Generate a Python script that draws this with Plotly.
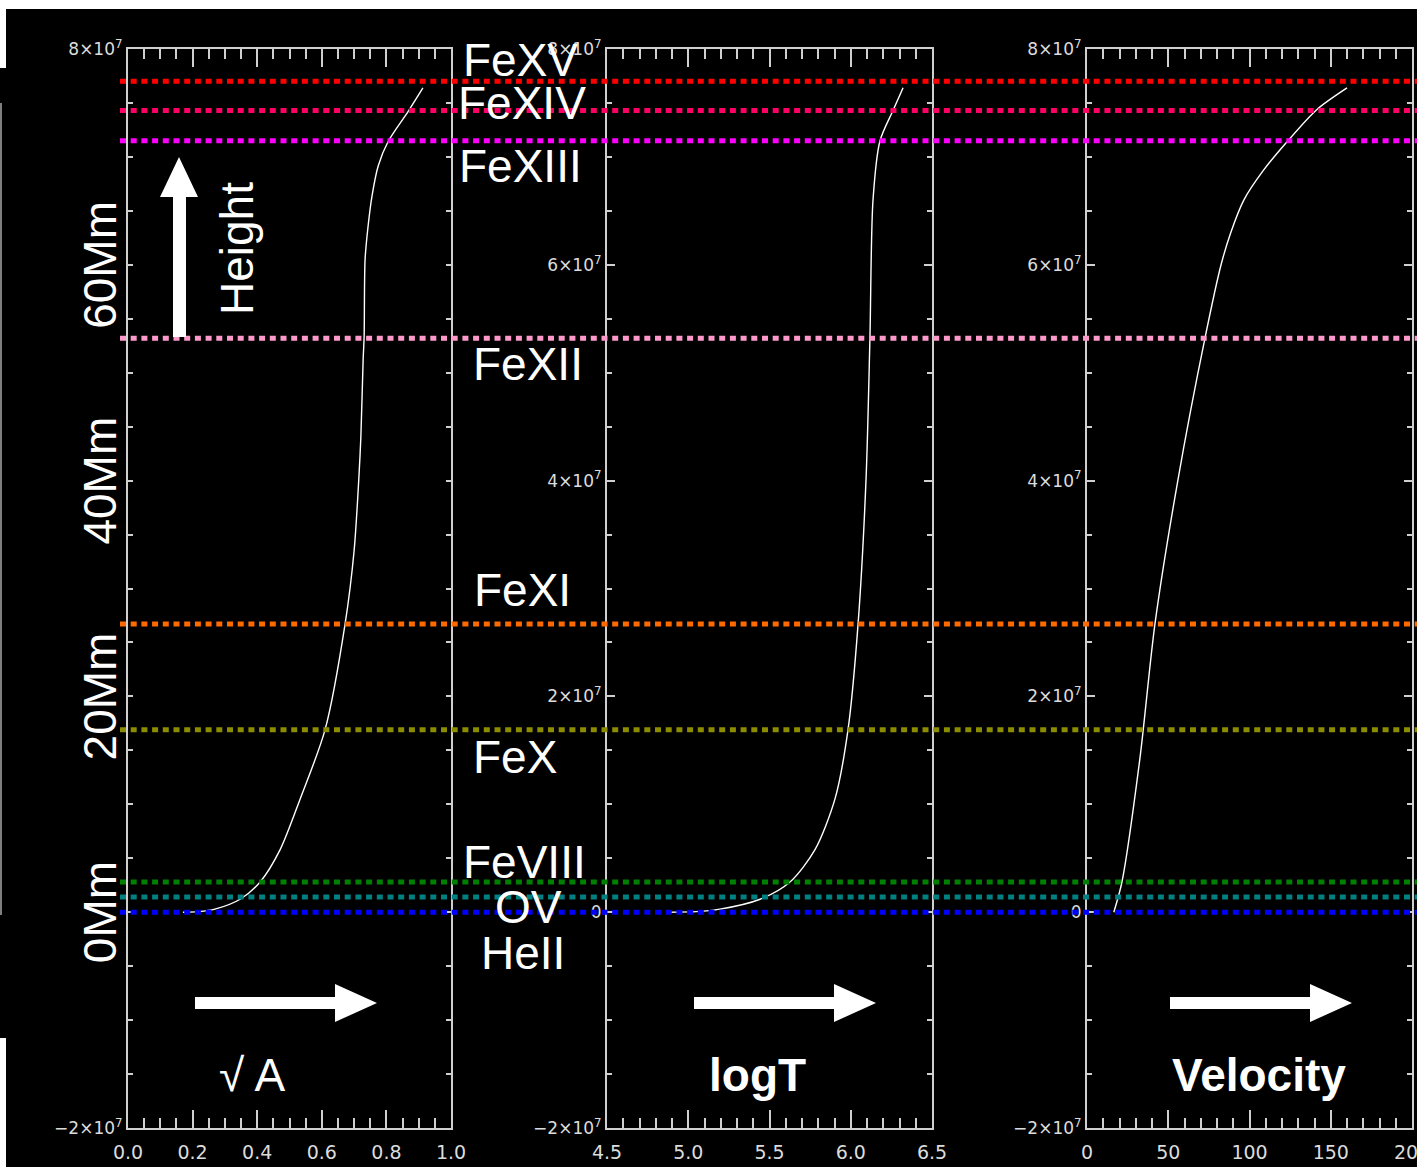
import plotly.graph_objects as go

# ---------------- data ----------------
sqrtA_x = [0.170, 0.220, 0.269, 0.347, 0.409, 0.471, 0.533, 0.610, 0.672, 0.700, 0.715,
           0.721, 0.728, 0.731, 0.734, 0.743, 0.755, 0.775, 0.805, 0.867, 0.913]
sqrtA_h = [0.0, 0.05, 0.28, 1.2, 2.8, 5.8, 10.5, 16.9, 26.7, 33.5, 40.4,
           44.1, 51.2, 53.3, 60.5, 63.5, 66.3, 69.2, 71.4, 74.2, 76.4]

logT_x = [4.869, 5.050, 5.195, 5.442, 5.626, 5.780, 5.903, 5.983, 6.045, 6.094, 6.118,
          6.137, 6.180, 6.260, 6.322]
logT_h = [0.0, 0.05, 0.28, 1.2, 2.8, 5.8, 10.5, 16.9, 26.7, 40.1, 53.2,
          66.0, 71.5, 74.3, 76.4]

vel_x = [16.5, 21.5, 32.6, 41.8, 56.0, 72.6, 82.5, 88.5, 96.5, 108.3, 123.1, 141.5, 160.0]
vel_h = [0.0, 2.8, 14.3, 26.7, 40.1, 53.2, 60.0, 63.0, 66.0, 68.7, 71.4, 74.4, 76.4]

ion_names = ["FeXV", "FeXIV", "FeXIII", "FeXII", "FeXI", "FeX", "FeVIII", "OV", "HeII"]
ion_heights_Mm = [77.0, 74.3, 71.5, 53.2, 26.7, 16.9, 2.8, 1.4, 0.0]
ion_colors = ["#ff0000", "#ff0066", "#ff00ff", "#ff99cc", "#ff6a00",
              "#8c8c00", "#008000", "#008080", "#0000ff"]

height_labels = ["0Mm", "20Mm", "40Mm", "60Mm"]
height_label_vals_Mm = [0, 20, 40, 60]

y_tickvals = [-2e7, 0, 2e7, 4e7, 6e7, 8e7]
y_ticktext = ["\u22122\u00d710<sup>7</sup>", "0", "2\u00d710<sup>7</sup>",
              "4\u00d710<sup>7</sup>", "6\u00d710<sup>7</sup>", "8\u00d710<sup>7</sup>"]
y_tickvals_p1 = [-2e7, 8e7]
y_ticktext_p1 = ["\u22122\u00d710<sup>7</sup>", "8\u00d710<sup>7</sup>"]

panel_titles = ["\u221a A", "<b>logT</b>", "<b>Velocity</b>"]

MM = 1e6  # metres per Mm

# ---------------- geometry helpers ----------------
W, H = 1417, 1167
def px(x):
    return x / W
def py(y):
    return 1 - y / H

ydom = [py(1128), py(49)]
xdoms = [[px(128), px(451)], [px(607), px(932)], [px(1087), px(1412)]]

fig = go.Figure()

curves = [(sqrtA_x, sqrtA_h), (logT_x, logT_h), (vel_x, vel_h)]
for i, (cx, ch) in enumerate(curves):
    sfx = "" if i == 0 else str(i + 1)
    fig.add_trace(go.Scatter(
        x=cx, y=[h * MM for h in ch], mode="lines",
        line=dict(color="white", width=1.4, shape="spline", smoothing=0.8),
        xaxis="x" + sfx, yaxis="y" + sfx, showlegend=False, hoverinfo="skip"))

axcol = "#cfcfcf"
tickfont_x = dict(family="DejaVu Sans", size=19, color="#dcdcdc")
tickfont_y = dict(family="DejaVu Sans", size=17, color="#dcdcdc")

xranges = [[0, 1], [4.5, 6.5], [0, 200]]
xdticks = [0.2, 0.5, 50]
xminor = [0.05, 0.1, 10]
xfmt = [".1f", ".1f", "d"]

layout = dict(
    width=W, height=H,
    margin=dict(l=0, r=0, t=0, b=0, pad=0),
    paper_bgcolor="black", plot_bgcolor="black",
    showlegend=False,
)
for i in range(3):
    sfx = "" if i == 0 else str(i + 1)
    layout["xaxis" + sfx] = dict(
        domain=xdoms[i], range=xranges[i], anchor="y" + sfx, automargin=False,
        showgrid=False, zeroline=False,
        showline=True, linecolor=axcol, linewidth=2, mirror="allticks",
        ticks="inside", ticklen=18, tickwidth=2, tickcolor=axcol,
        dtick=xdticks[i], tick0=xranges[i][0], tickformat=xfmt[i],
        tickfont=tickfont_x, ticklabeloverflow="allow", ticklabelstandoff=6,
        minor=dict(ticks="inside", ticklen=10, tickwidth=2, tickcolor=axcol,
                   dtick=xminor[i], showgrid=False),
    )
    layout["yaxis" + sfx] = dict(
        domain=ydom, range=[-2e7, 8e7], anchor="x" + sfx, automargin=False,
        showgrid=False, zeroline=False,
        showline=True, linecolor=axcol, linewidth=2, mirror="allticks",
        ticks="inside", ticklen=8, tickwidth=2, tickcolor=axcol,
        tickmode="array",
        tickvals=(y_tickvals_p1 if i == 0 else y_tickvals),
        ticktext=(y_ticktext_p1 if i == 0 else y_ticktext),
        tickfont=tickfont_y, ticklabeloverflow="allow",
        minor=dict(ticks="inside", ticklen=5, tickwidth=2, tickcolor=axcol,
                   dtick=5e6, tick0=0, showgrid=False),
    )
fig.update_layout(**layout)

shapes = []
# white background bits of the original composite
shapes.append(dict(type="rect", xref="paper", yref="paper", x0=0, x1=1,
                   y0=py(9), y1=1, fillcolor="white", line=dict(width=0), layer="below"))
shapes.append(dict(type="rect", xref="paper", yref="paper", x0=0, x1=px(6),
                   y0=py(68), y1=1, fillcolor="white", line=dict(width=0), layer="below"))
shapes.append(dict(type="rect", xref="paper", yref="paper", x0=0, x1=px(6),
                   y0=0, y1=py(1038), fillcolor="white", line=dict(width=0), layer="below"))
shapes.append(dict(type="line", xref="paper", yref="paper", x0=px(1), x1=px(1),
                   y0=py(915), y1=py(103), line=dict(color="#aaaaaa", width=1.5)))

# dotted ion lines
for name, h, c in zip(ion_names, ion_heights_Mm, ion_colors):
    shapes.append(dict(type="line", xref="paper", yref="y", x0=px(120), x1=1,
                       y0=h * MM, y1=h * MM,
                       line=dict(color=c, width=5, dash="6px,4.7px"), layer="above"))

def poly(pts):
    return "M " + " L ".join(f"{px(x):.5f},{py(y):.5f}" for x, y in pts) + " Z"

# up arrow (Height)
up = [(173, 337), (186, 337), (186, 197), (198, 197), (179, 157), (160, 197), (173, 197)]
shapes.append(dict(type="path", xref="paper", yref="paper", path=poly(up),
                   fillcolor="white", line=dict(width=0), layer="above"))
# right arrows
for off in [0, 499, 975]:
    ra = [(195 + off, 997), (335 + off, 997), (335 + off, 984), (377 + off, 1003),
          (335 + off, 1022), (335 + off, 1009), (195 + off, 1009)]
    shapes.append(dict(type="path", xref="paper", yref="paper", path=poly(ra),
                       fillcolor="white", line=dict(width=0), layer="above"))

annotations = []
label_font = dict(family="Liberation Sans", size=46, color="white")
label_centers = [(520, 60), (522, 103), (520, 166), (528, 364), (522, 590),
                 (515, 757), (524, 862), (528, 907), (523, 953)]
for name, (cx, cy) in zip(ion_names, label_centers):
    annotations.append(dict(text=name, xref="paper", yref="paper", x=px(cx), y=py(cy),
                            xanchor="center", yanchor="middle", showarrow=False,
                            font=label_font))
# left height labels (rotated)
for t, v in zip(height_labels, height_label_vals_Mm):
    annotations.append(dict(text=t, xref="paper", yref="y", x=px(100), y=v * MM,
                            xanchor="center", yanchor="middle", showarrow=False,
                            textangle=-90, font=label_font))
annotations.append(dict(text="Height", xref="paper", yref="paper", x=px(237), y=py(249),
                        xanchor="center", yanchor="middle", showarrow=False,
                        textangle=-90, font=label_font))
for t, cx in zip(panel_titles, [252, 757, 1259]):
    annotations.append(dict(text=t, xref="paper", yref="paper", x=px(cx), y=py(1075),
                            xanchor="center", yanchor="middle", showarrow=False,
                            font=label_font))

fig.update_layout(shapes=shapes, annotations=annotations)
fig.write_html("out.html", config={"displayModeBar": False},
               post_script="document.body.style.margin='0px';")
